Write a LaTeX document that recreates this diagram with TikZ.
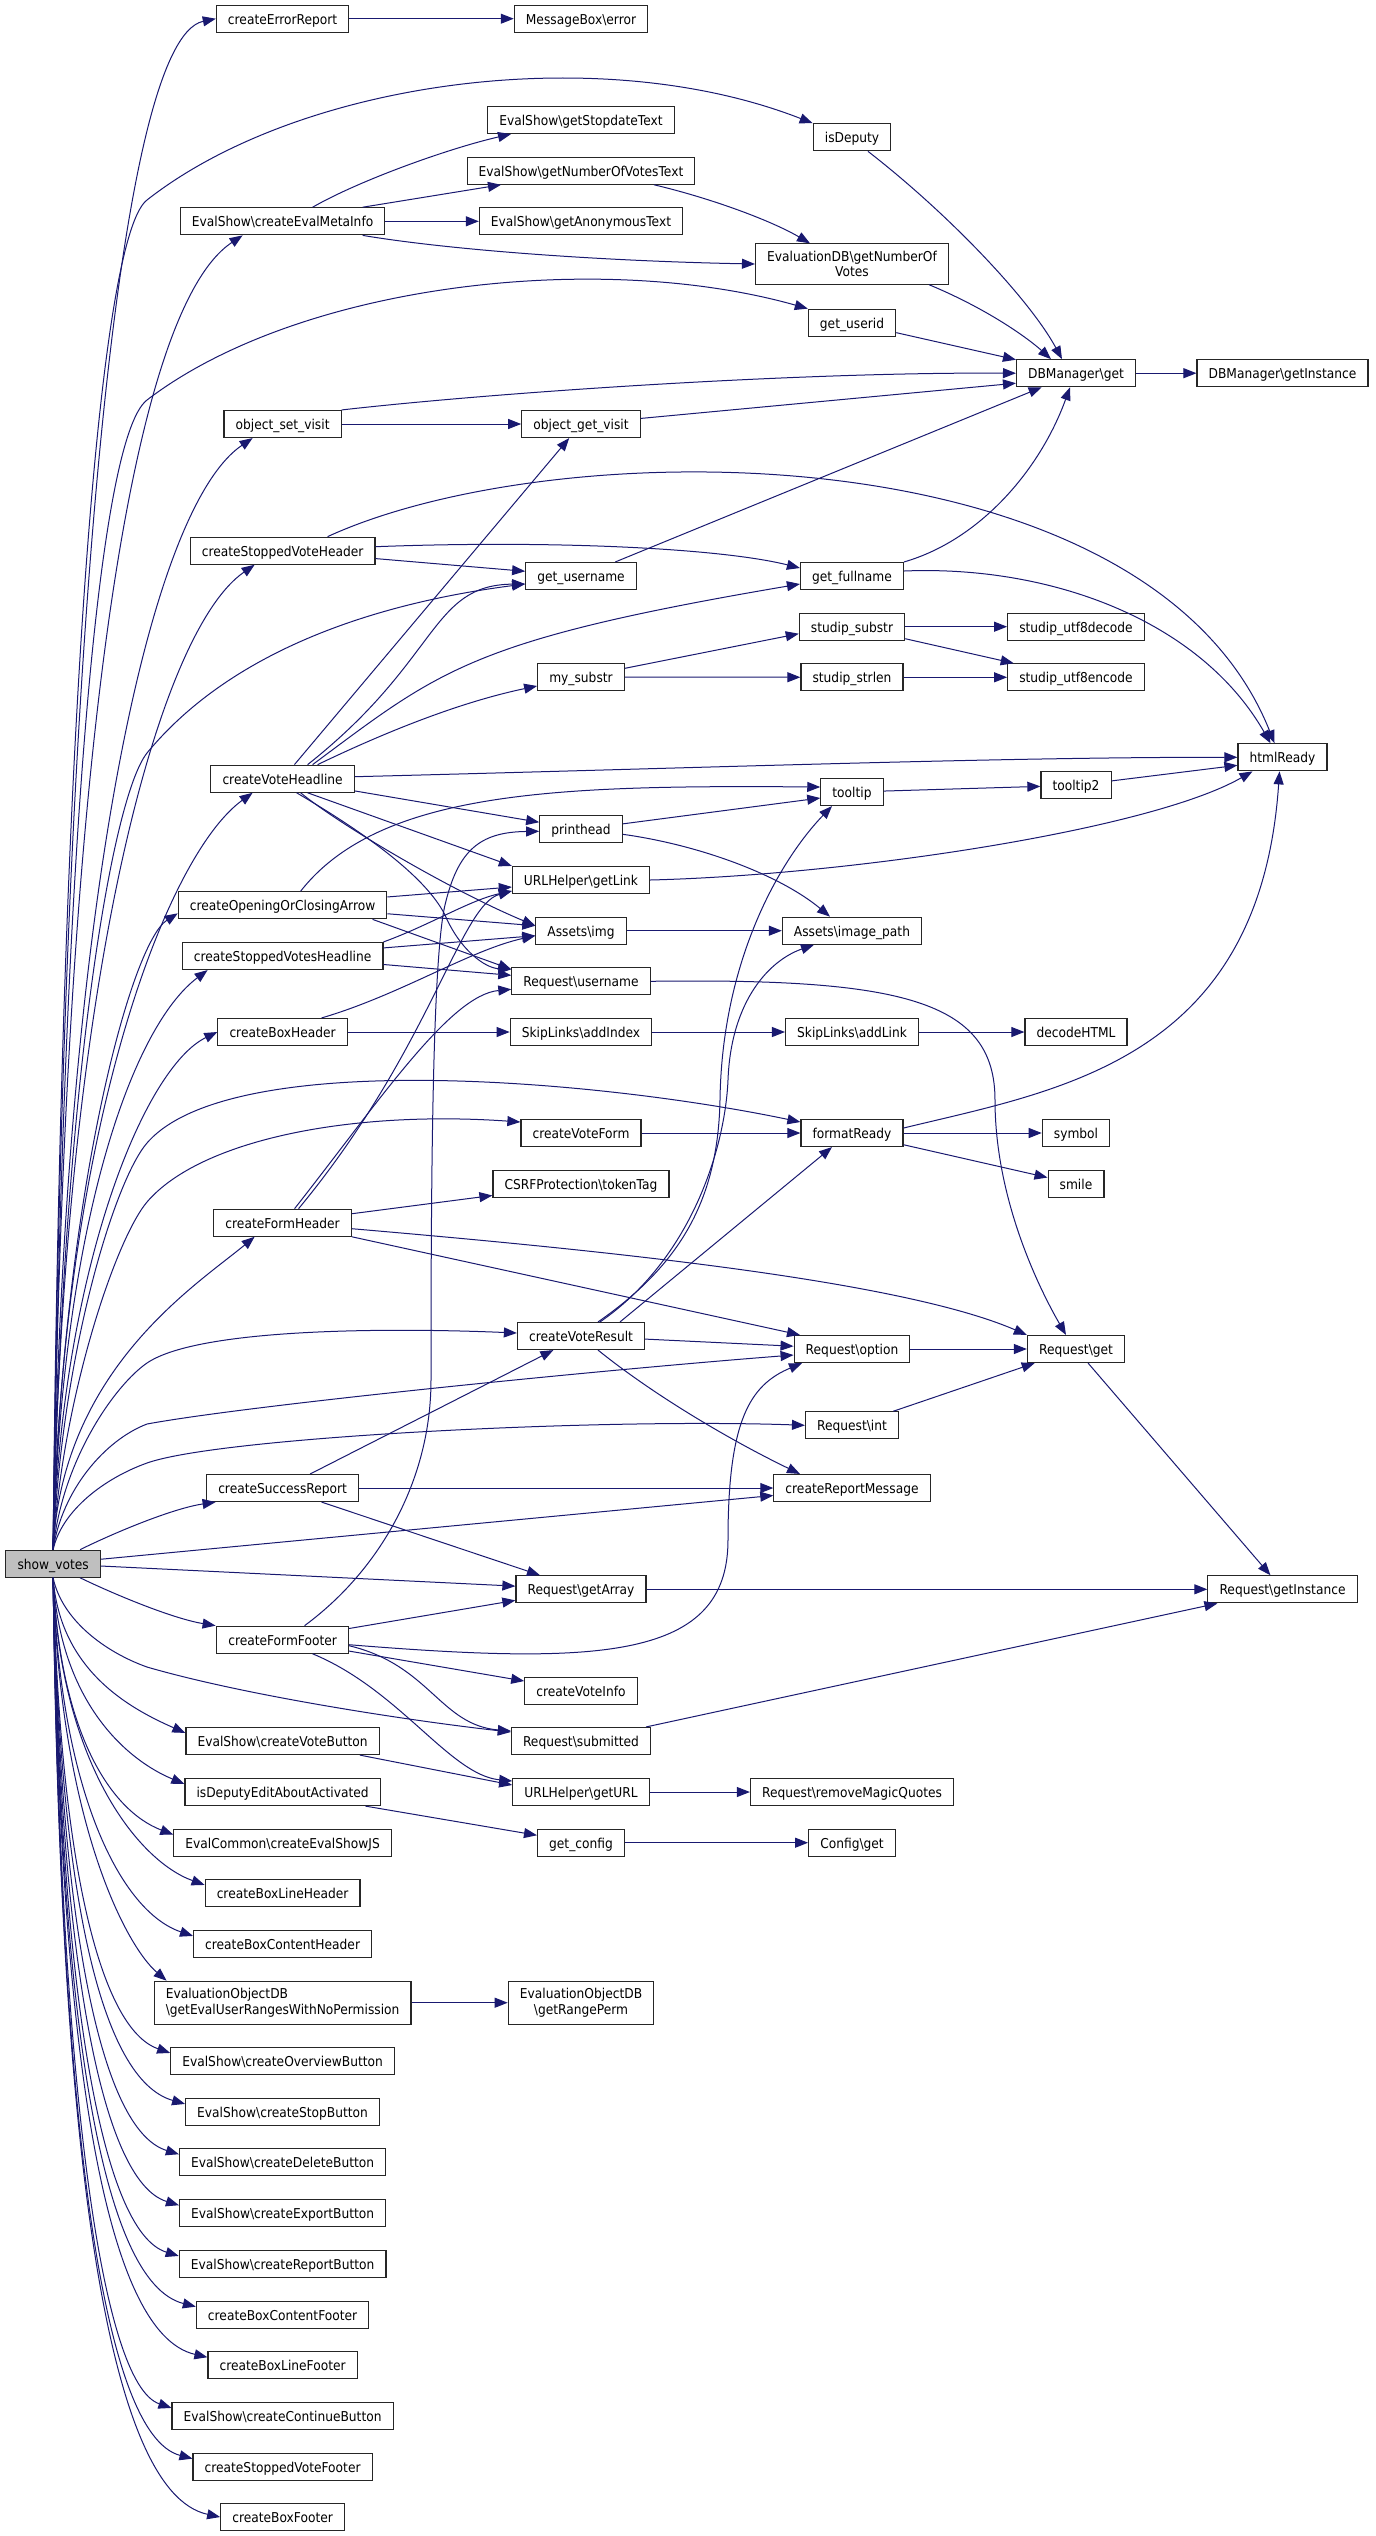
\documentclass[tikz,border=0pt]{standalone}
\usepackage{fontspec}
\setmainfont[FakeStretch=0.9]{DejaVu Sans}
\usetikzlibrary{arrows.meta}

\definecolor{edgeblue}{HTML}{191970}
\definecolor{rootgrey}{HTML}{BFBFBF}
\newcommand{\bsl}{\textbackslash}

\tikzset{
  func/.style={draw=black!85, line width=1.15pt, fill=white, minimum height=27pt,
    inner xsep=11.6pt, inner ysep=0pt, text height=13.9pt, text depth=3.2pt,
    font=\fontsize{13.6}{15.7}\selectfont},
  functwo/.style={draw=black!85, line width=1.15pt, fill=white, align=center,
    inner xsep=11.6pt, inner ysep=7pt, font=\fontsize{13.6}{15.7}\selectfont},
  call/.style={draw=edgeblue, line width=1pt, -{Triangle[length=13pt,width=10pt]}},
}

\begin{document}
\begin{tikzpicture}[x=1pt,y=1pt]
  \fill[white] (0,0) rectangle (1376,-2536);
  \useasboundingbox (0,0) rectangle (1376,-2536);

  % the function itself
  \node[func,fill=rootgrey] (sv) at (53.1,-1563.7) {show\_votes};

  % direct callees
  \node[func] (cer) at (282.6,-18.7) {createErrorReport};
  \node[func] (cemi) at (282.6,-221.3) {EvalShow\bsl createEvalMetaInfo};
  \node[func] (osv) at (282.6,-424) {object\_set\_visit};
  \node[func] (csvh) at (282.6,-550.7) {createStoppedVoteHeader};
  \node[func] (cvh) at (282.6,-778.7) {createVoteHeadline};
  \node[func] (cocs) at (282.6,-905.3) {createOpeningOrClosingArrow};
  \node[func] (csvhl) at (282.6,-956) {createStoppedVotesHeadline};
  \node[func] (cbh) at (282.6,-1032) {createBoxHeader};
  \node[func] (cfh) at (282.6,-1222.7) {createFormHeader};
  \node[func] (csr) at (282.6,-1488) {createSuccessReport};
  \node[func] (cff) at (282.6,-1639.7) {createFormFooter};
  \node[func] (cvb) at (282.6,-1741) {EvalShow\bsl createVoteButton};
  \node[func] (idea) at (282.6,-1792) {isDeputyEditAboutActivated};
  \node[func] (cesjs) at (282.6,-1842.7) {EvalCommon\bsl createEvalShowJS};
  \node[func] (cblh) at (282.6,-1893) {createBoxLineHeader};
  \node[func] (cbch) at (282.6,-1944) {createBoxContentHeader};
  \node[functwo,align=left] (geur) at (282.6,-2002.7) {EvaluationObjectDB\\\bsl getEvalUserRangesWithNoPermission};
  \node[func] (cob) at (282.6,-2061) {EvalShow\bsl createOverviewButton};
  \node[func] (csb) at (282.6,-2112) {EvalShow\bsl createStopButton};
  \node[func] (cdb) at (282.6,-2162.3) {EvalShow\bsl createDeleteButton};
  \node[func] (ceb) at (282.6,-2213.3) {EvalShow\bsl createExportButton};
  \node[func] (crb) at (282.6,-2264) {EvalShow\bsl createReportButton};
  \node[func] (cbcf) at (282.6,-2314.7) {createBoxContentFooter};
  \node[func] (cblf) at (282.6,-2365.3) {createBoxLineFooter};
  \node[func] (ccb) at (282.6,-2416) {EvalShow\bsl createContinueButton};
  \node[func] (csvf) at (282.6,-2466.7) {createStoppedVoteFooter};
  \node[func] (cbf) at (282.6,-2517) {createBoxFooter};

  % second level
  \node[func] (mbe) at (581,-18.7) {MessageBox\bsl error};
  \node[func] (gst) at (581,-120) {EvalShow\bsl getStopdateText};
  \node[func] (gnvt) at (581,-170.7) {EvalShow\bsl getNumberOfVotesText};
  \node[func] (gat) at (581,-221.3) {EvalShow\bsl getAnonymousText};
  \node[func] (ogv) at (581,-424) {object\_get\_visit};
  \node[func] (gun) at (581,-576) {get\_username};
  \node[func] (mys) at (581,-677) {my\_substr};
  \node[func] (ph) at (581,-829.3) {printhead};
  \node[func] (ugl) at (581,-880) {URLHelper\bsl getLink};
  \node[func] (aimg) at (581,-930.7) {Assets\bsl img};
  \node[func] (run) at (581,-981.3) {Request\bsl username};
  \node[func] (sai) at (581,-1032) {SkipLinks\bsl addIndex};
  \node[func] (cvf) at (581,-1133) {createVoteForm};
  \node[func] (csrf) at (581,-1184) {CSRFProtection\bsl tokenTag};
  \node[func] (cvr) at (581,-1336) {createVoteResult};
  \node[func] (rga) at (581,-1589.3) {Request\bsl getArray};
  \node[func] (cvi) at (581,-1690.7) {createVoteInfo};
  \node[func] (rsub) at (581,-1741) {Request\bsl submitted};
  \node[func] (ugu) at (581,-1792) {URLHelper\bsl getURL};
  \node[func] (gcf) at (581,-1842.7) {get\_config};
  \node[functwo] (grp) at (581,-2002.7) {EvaluationObjectDB\\\bsl getRangePerm};

  % third level
  \node[func] (isd) at (852,-137.3) {isDeputy};
  \node[functwo] (engv) at (852,-264) {EvaluationDB\bsl getNumberOf\\Votes};
  \node[func] (guid) at (852,-322.7) {get\_userid};
  \node[func] (gfn) at (852,-576) {get\_fullname};
  \node[func] (sss) at (852,-626.7) {studip\_substr};
  \node[func] (ssl) at (852,-677.3) {studip\_strlen};
  \node[func] (tt) at (852,-792) {tooltip};
  \node[func] (aip) at (852,-930.7) {Assets\bsl image\_path};
  \node[func] (sal) at (852,-1032) {SkipLinks\bsl addLink};
  \node[func] (fr) at (852,-1133) {formatReady};
  \node[func] (ropt) at (852,-1349) {Request\bsl option};
  \node[func] (rint) at (852,-1425.3) {Request\bsl int};
  \node[func] (crm) at (852,-1488) {createReportMessage};
  \node[func] (rrmq) at (852,-1792) {Request\bsl removeMagicQuotes};
  \node[func] (cfg) at (852,-1842.7) {Config\bsl get};

  % fourth and fifth level
  \node[func] (dbg) at (1076,-373.2) {DBManager\bsl get};
  \node[func] (sud) at (1076,-626.7) {studip\_utf8decode};
  \node[func] (sue) at (1076,-677.3) {studip\_utf8encode};
  \node[func] (tt2) at (1076,-785.3) {tooltip2};
  \node[func] (dhtml) at (1076,-1032) {decodeHTML};
  \node[func] (sym) at (1076,-1133) {symbol};
  \node[func] (sml) at (1076,-1184) {smile};
  \node[func] (rget) at (1076,-1349) {Request\bsl get};
  \node[func] (dbgi) at (1282.5,-373.2) {DBManager\bsl getInstance};
  \node[func] (hr) at (1282.5,-757.3) {htmlReady};
  \node[func] (rgi) at (1282.5,-1589.3) {Request\bsl getInstance};

  % calls of show_votes, upwards
  \draw[call] (sv.north) .. controls (62,-708) and (112,-40) .. (cer.west);
  \draw[call] (sv.north) .. controls (62,-819) and (122.6,-314.7) .. ([xshift=-40pt]cemi.south);
  \draw[call] (sv.north) .. controls (62,-931) and (144.8,-511.1) .. ([xshift=-30pt]osv.south);
  \draw[call] (sv.north) .. controls (62,-1000) and (154.4,-634) .. ([xshift=-28pt]csvh.south);
  \draw[call] (sv.north) .. controls (62,-1126) and (166.6,-855) .. ([xshift=-30pt]cvh.south);
  \draw[call] (sv.north) .. controls (62,-1195) and (131,-943) .. ([yshift=-8pt]cocs.west);
  \draw[call] (sv.north) .. controls (62,-1223) and (131.8,-1027) .. ([xshift=-75pt]csvhl.south);
  \draw[call] (sv.north) .. controls (62,-1265) and (145,-1067) .. (cbh.west);
  \draw[call] (sv.north) .. controls (62,-1370) and (195,-1286) .. ([xshift=-28pt]cfh.south);
  \draw[call] ([xshift=27pt]sv.north) .. controls (120,-1530) and (175,-1508) .. ([xshift=-67pt]csr.south);
  \draw[call] (sv.north) .. controls (60,-800) and (95,-240) .. (147,-200) .. controls (300,-80) and (600,-40) .. (isd.north west);
  \draw[call] (sv.north) .. controls (62,-900) and (95,-440) .. (147,-400) .. controls (300,-283) and (600,-250) .. (guid.north west);
  \draw[call] (sv.north) .. controls (62,-1100) and (110,-800) .. (147,-753) .. controls (240,-640) and (400,-600) .. ([yshift=-8pt]gun.west);
  \draw[call] (sv.north) .. controls (62,-1350) and (115,-1180) .. (147,-1143) .. controls (230,-1047) and (600,-1080) .. ([yshift=11pt]fr.west);
  \draw[call] (sv.north) .. controls (62,-1400) and (115,-1240) .. (147,-1202) .. controls (200,-1140) and (350,-1110) .. ([yshift=11pt]cvf.west);
  \draw[call] (sv.north) .. controls (62,-1460) and (115,-1385) .. (147,-1363) .. controls (200,-1327) and (400,-1328) .. ([yshift=3pt]cvr.west);
  \draw[call] (sv.north) .. controls (62,-1490) and (105,-1440) .. (147,-1424) .. controls (250,-1405) and (600,-1370) .. ([yshift=-6pt]ropt.west);
  \draw[call] (sv.north) .. controls (62,-1510) and (105,-1478) .. (147,-1463) .. controls (220,-1437) and (600,-1418) .. (rint.west);
  \draw[call] (sv) -- (crm);
  \draw[call] (sv) -- (rga);

  % calls of show_votes, downwards
  \draw[call] ([xshift=27pt]sv.south) .. controls (120,-1597) and (175,-1619) .. ([xshift=-67pt]cff.north);
  \draw[call] (sv.south) .. controls (62,-1620) and (105,-1652) .. (147,-1667) .. controls (250,-1697) and (420,-1722) .. ([yshift=9pt]rsub.west);
  \draw[call] (sv.south) .. controls (60,-1671) and (130.5,-1708.7) .. ([yshift=-6pt]cvb.north west);
  \draw[call] (sv.south) .. controls (60,-1701.6) and (126,-1759.7) .. ([yshift=-6pt]idea.north west);
  \draw[call] (sv.south) .. controls (60,-1732) and (109.8,-1810.3) .. ([yshift=-6pt]cesjs.north west);
  \draw[call] (sv.south) .. controls (60,-1762.2) and (137.5,-1860.7) .. ([yshift=-6pt]cblh.north west);
  \draw[call] (sv.south) .. controls (60,-1792.8) and (120.9,-1911.7) .. ([yshift=-6pt]cbch.north west);
  \draw[call] (sv.south) .. controls (60,-1819.4) and (125,-1945) .. ([xshift=13pt]geur.north west);
  \draw[call] (sv.south) .. controls (60,-1863) and (100,-2028.7) .. ([yshift=-6pt]cob.north west);
  \draw[call] (sv.south) .. controls (60,-1893.6) and (100.4,-2079.7) .. ([yshift=-6pt]csb.north west);
  \draw[call] (sv.south) .. controls (60,-1923.8) and (100,-2130) .. ([yshift=-6pt]cdb.north west);
  \draw[call] (sv.south) .. controls (60,-1954.4) and (100,-2181) .. ([yshift=-6pt]ceb.north west);
  \draw[call] (sv.south) .. controls (60,-1984.8) and (100,-2231.7) .. ([yshift=-6pt]crb.north west);
  \draw[call] (sv.south) .. controls (60,-2015.2) and (100,-2282.3) .. ([yshift=-6pt]cbcf.north west);
  \draw[call] (sv.south) .. controls (60,-2045.6) and (102.5,-2333) .. ([yshift=-6pt]cblf.north west);
  \draw[call] (sv.south) .. controls (60,-2076) and (100,-2383.7) .. ([yshift=-6pt]ccb.north west);
  \draw[call] (sv.south) .. controls (60,-2106.4) and (100,-2434.3) .. ([yshift=-6pt]csvf.north west);
  \draw[call] (sv.south) .. controls (60,-2141) and (103.8,-2492) .. (cbf.west);

  % upper part
  \draw[call] (cer) -- (mbe);
  \draw[call] ([xshift=30pt]cemi.north) .. controls (360,-180) and (450,-148) .. ([xshift=-70pt]gst.south);
  \draw[call] ([xshift=80pt]cemi.north) -- ([xshift=-80pt]gnvt.south);
  \draw[call] (cemi) -- (gat);
  \draw[call] ([xshift=80pt]cemi.south) .. controls (450,-250) and (600,-261) .. (engv.west);
  \draw[call] ([xshift=73pt]gnvt.south) .. controls (710,-198) and (770,-220) .. ([xshift=-42pt]engv.north);
  \draw[call] ([xshift=16pt]isd.south) .. controls (950,-215) and (1030,-300) .. ([xshift=-14pt]dbg.north);
  \draw[call] ([xshift=77pt]engv.south) .. controls (990,-310) and (1030,-340) .. ([xshift=-25pt]dbg.north);
  \draw[call] (guid) -- (dbg);
  \draw[call] (dbg) -- (dbgi);
  \draw[call] (osv) -- (ogv);
  \draw[call] (osv.north east) .. controls (500,-392) and (800,-372) .. (dbg.west);
  \draw[call] (ogv) -- ([yshift=-10pt]dbg.west);
  \draw[call] (gun) -- (dbg);
  \draw[call] (gfn.north east) .. controls (980,-540) and (1040,-470) .. ([xshift=-6pt]dbg.south);
  \draw[call] ([yshift=5pt]gfn.east) .. controls (1050,-565) and (1200,-620) .. ([xshift=-12pt]hr.north);
  \draw[call] (csvh) -- (gun);
  \draw[call] ([yshift=4pt]csvh.east) .. controls (550,-540) and (720,-548) .. ([yshift=8pt]gfn.west);
  \draw[call] ([xshift=45pt]csvh.north) .. controls (560,-430) and (1150,-430) .. ([xshift=-8pt]hr.north);

  % createVoteHeadline
  \draw[call] (cvh) -- (ogv);
  \draw[call] ([xshift=25pt]cvh.north) .. controls (440,-660) and (430,-585) .. ([yshift=-8pt]gun.west);
  \draw[call] ([xshift=30pt]cvh.north) .. controls (440,-670) and (470,-640) .. ([yshift=-8pt]gfn.west);
  \draw[call] ([xshift=35pt]cvh.north) .. controls (400,-725) and (470,-700) .. ([yshift=-9pt]mys.west);
  \draw[call] ([yshift=2pt]cvh.east) .. controls (700,-768) and (1000,-757) .. (hr.west);
  \draw[call] (cvh) -- (ph);
  \draw[call] ([xshift=25pt]cvh.south) -- (ugl.north west);
  \draw[call] ([xshift=18pt]cvh.south) .. controls (340,-825) and (450,-890) .. ([yshift=5pt]aimg.west);
  \draw[call] ([xshift=14pt]cvh.south) .. controls (360,-830) and (425,-875) .. (445,-915) .. controls (460,-950) and (485,-968) .. ([yshift=12pt]run.west);
  \draw[call] (mys) -- ([yshift=-7pt]sss.west);
  \draw[call] (mys) -- (ssl);
  \draw[call] (sss) -- (sud);
  \draw[call] (sss) -- (sue);
  \draw[call] (ssl) -- (sue);

  % headlines and box header
  \draw[call] (cocs) -- ([yshift=-7pt]ugl.west);
  \draw[call] (cocs) -- ([yshift=5pt]aimg.west);
  \draw[call] ([xshift=18pt]cocs.north) .. controls (380,-790) and (560,-785) .. ([yshift=5pt]tt.west);
  \draw[call] ([xshift=90pt]cocs.south) -- ([yshift=12pt]run.west);
  \draw[call] (csvhl.north east) .. controls (430,-925) and (470,-900) .. ([yshift=-11pt]ugl.west);
  \draw[call] (csvhl) -- ([yshift=-5pt]aimg.west);
  \draw[call] (csvhl) -- ([yshift=6pt]run.west);
  \draw[call] ([xshift=39pt]cbh.north) .. controls (400,-995) and (470,-950) .. ([yshift=-5pt]aimg.west);
  \draw[call] (cbh) -- (sai);
  \draw[call] (sai) -- (sal);
  \draw[call] (sal) -- (dhtml);
  \draw[call] (aimg) -- (aip);
  \draw[call] ([yshift=-5pt]ph.east) .. controls (700,-845) and (780,-875) .. ([xshift=-22pt]aip.north);
  \draw[call] (ph) -- ([yshift=-6pt]tt.west);
  \draw[call] (tt) -- (tt2);
  \draw[call] (tt2) -- ([yshift=-8pt]hr.west);
  \draw[call] (ugl.east) .. controls (850,-875) and (1150,-830) .. ([xshift=-30pt]hr.south);
  \draw[call] (run.east) .. controls (900,-978) and (995,-1000) .. (995,-1100) .. controls (995,-1200) and (1040,-1290) .. ([xshift=-10pt]rget.north);

  % form header, vote form and result
  \draw[call] (cfh) -- (csrf);
  \draw[call] ([xshift=12pt]cfh.north) .. controls (380,-1100) and (450,-995) .. ([yshift=-8pt]run.west);
  \draw[call] ([xshift=16pt]cfh.north) .. controls (430,-1050) and (460,-905) .. ([yshift=-11pt]ugl.west);
  \draw[call] (cfh.south east) -- ([xshift=-52pt]ropt.north);
  \draw[call] ([yshift=-6pt]cfh.east) .. controls (600,-1250) and (900,-1280) .. (rget.north west);
  \draw[call] (cvf) -- (fr);
  \draw[call] ([yshift=5pt]fr.east) .. controls (1060,-1090) and (1260,-1060) .. ([xshift=-3pt]hr.south);
  \draw[call] (fr) -- (sym);
  \draw[call] (fr) -- (sml);
  \draw[call] ([xshift=17pt]cvr.north) .. controls (680,-1265) and (718,-1200) .. (720,-1100) .. controls (722,-960) and (780,-860) .. ([xshift=-20pt]tt.south);
  \draw[call] ([xshift=19pt]cvr.north) .. controls (690,-1260) and (725,-1150) .. (728,-1080) .. controls (731,-1000) and (770,-960) .. ([xshift=-38pt]aip.south);
  \draw[call] ([xshift=39pt]cvr.north) -- ([xshift=-20pt]fr.south);
  \draw[call] (cvr) -- (ropt);
  \draw[call] ([xshift=17pt]cvr.south) .. controls (660,-1400) and (740,-1445) .. ([xshift=-52pt]crm.north);
  \draw[call] (ropt) -- (rget);
  \draw[call] (rint) -- (rget);
  \draw[call] (rget) -- (rgi);

  % success report and form footer
  \draw[call] (csr) -- (cvr);
  \draw[call] (csr) -- (crm);
  \draw[call] ([xshift=39pt]csr.south) -- ([xshift=-41pt]rga.north);
  \draw[call] (rga) -- (rgi);
  \draw[call] (cff) -- (rga);
  \draw[call] ([yshift=-5pt]cff.east) .. controls (600,-1665) and (728,-1660) .. (728,-1540) .. controls (728,-1420) and (750,-1385) .. ([xshift=-50pt]ropt.south);
  \draw[call] (cff) -- (cvi);
  \draw[call] ([yshift=-6pt]cff.east) .. controls (430,-1665) and (440,-1725) .. ([yshift=10pt]rsub.west);
  \draw[call] ([xshift=30pt]cff.south) .. controls (400,-1690) and (450,-1775) .. ([yshift=11pt]ugu.west);
  \draw[call] ([xshift=22pt]cff.north) .. controls (380,-1570) and (431,-1480) .. (431,-1380) .. controls (431,-1200) and (432,-960) .. (445,-905) .. controls (458,-850) and (480,-832) .. ([yshift=-2pt]ph.west);
  \draw[call] ([xshift=-20pt]cvb.south east) -- ([yshift=7pt]ugu.west);
  \draw[call] (rsub) -- (rgi);
  \draw[call] (ugu) -- (rrmq);
  \draw[call] (idea) -- (gcf);
  \draw[call] (gcf) -- (cfg);
  \draw[call] (geur) -- (grp);
\end{tikzpicture}
\end{document}
